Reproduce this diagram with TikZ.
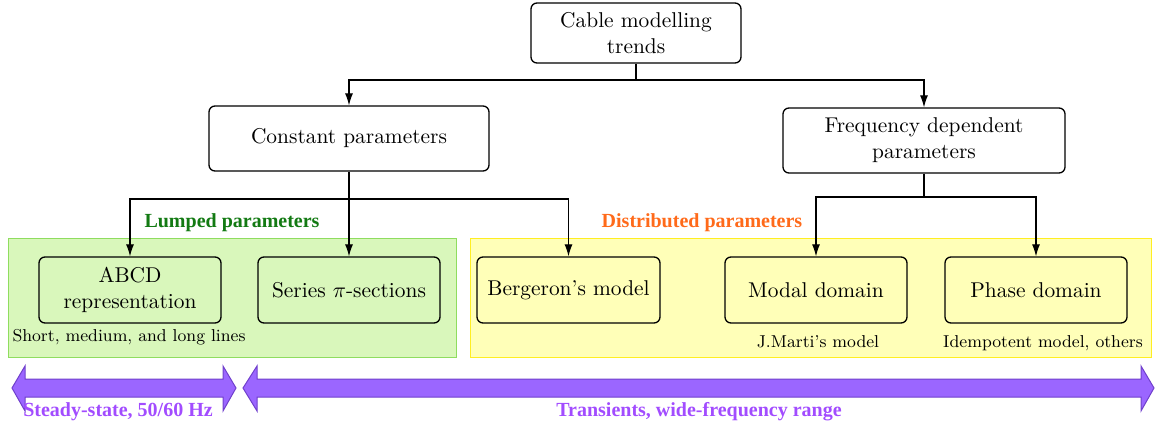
\documentclass[tikz,border=0pt]{standalone}
\usepackage{fontspec}
\newfontfamily\timesbf{Liberation Serif}[BoldFont={* Bold}]
\usetikzlibrary{arrows.meta}
\definecolor{lgreen}{HTML}{D9F7BB}
\definecolor{bgreen}{HTML}{8FDD5F}
\definecolor{lyellow}{HTML}{FFFFB8}
\definecolor{byellow}{HTML}{FFEE22}
\definecolor{dgreen}{HTML}{137A13}
\definecolor{orng}{HTML}{FF6A1A}
\definecolor{purp}{HTML}{9B66FF}
\definecolor{dpurp}{HTML}{7040CC}
\definecolor{ptext}{HTML}{A24CFF}
\tikzset{
  box/.style={draw, rounded corners=3pt, line width=0.65pt, align=center, inner sep=0pt, font=\fontsize{10.7}{13}\selectfont},
  conn/.style={-{Latex[length=6pt,width=4pt]}, line width=0.55pt},
  plain/.style={line width=0.55pt},
  glabel/.style={font=\timesbf\bfseries, text=dgreen},
  olabel/.style={font=\timesbf\bfseries, text=orng},
  plabel/.style={font=\timesbf\bfseries, text=ptext},
  note/.style={font=\fontsize{8.6}{10}\selectfont},
  bigarrow/.style={fill=purp, draw=dpurp, line width=0.5pt},
}
\begin{document}
\begin{tikzpicture}[x=0.5pt,y=-0.5pt]
\useasboundingbox (0,0) rectangle (1156,427);
% regions
\path[fill=lgreen, draw=bgreen] (8,238) rectangle (456,357);
\path[fill=lyellow, draw=byellow] (470,238) rectangle (1151,357);
\node[glabel] (lump) at (232,223) {Lumped parameters};
\node[olabel] (dist) at (702,223) {Distributed parameters};
% nodes
\node[box, minimum width=105pt, minimum height=30pt] (top) at (636,33) {Cable modelling\\trends};
\node[box, minimum width=140pt, minimum height=32.5pt] (const) at (349,138.5) {Constant parameters};
\node[box, minimum width=141pt, minimum height=32.5pt] (freq) at (924,140.5) {Frequency dependent\\parameters};
\node[box, fill=lgreen, minimum width=91pt, minimum height=33pt] (abcd) at (130,290) {ABCD\\representation};
\node[box, fill=lgreen, minimum width=91pt, minimum height=33pt] (series) at (349,290) {Series $\pi$-sections};
\node[box, fill=lyellow, minimum width=91.5pt, minimum height=33pt] (berg) at (568.5,290) {Bergeron's model};
\node[box, fill=lyellow, minimum width=91pt, minimum height=33pt] (modal) at (816,290) {Modal domain};
\node[box, fill=lyellow, minimum width=91pt, minimum height=33pt] (phase) at (1036,290) {Phase domain};
\node[note] (n1) at (129,337) {Short, medium, and long lines};
\node[note] (n2) at (818,342) {J.Marti's model};
\node[note] (n3) at (1043,343) {Idempotent model, others};
% connectors
\coordinate (j0) at (636,80);
\coordinate (j1) at (349,199);
\coordinate (j2) at (924,197);
\draw[plain] (top.south) -- (j0);
\draw[conn] (j0) -| (const.north);
\draw[conn] (j0) -| (freq.north);
\draw[plain] (const.south) -- (j1);
\draw[conn] (j1) -| (abcd.north);
\draw[conn] (j1) -- (series.north);
\draw[conn] (j1) -| (berg.north);
\draw[plain] (freq.south) -- (j2);
\draw[conn] (j2) -| (modal.north);
\draw[conn] (j2) -| (phase.north);
% big arrows
\path[bigarrow] (12,388) -- (25,366) -- (25,379) -- (223,379) -- (223,366) -- (236,388)
  -- (223,411) -- (223,397) -- (25,397) -- (25,411) -- cycle;
\path[bigarrow] (243,388) -- (257,366) -- (257,379) -- (1141,379) -- (1141,366) -- (1154,388)
  -- (1141,411) -- (1141,397) -- (257,397) -- (257,411) -- cycle;
\node[plabel] (s1) at (118,412) {Steady-state, 50/60 Hz};
\node[plabel] (s2) at (699,412) {Transients, wide-frequency range};
\end{tikzpicture}
\end{document}
